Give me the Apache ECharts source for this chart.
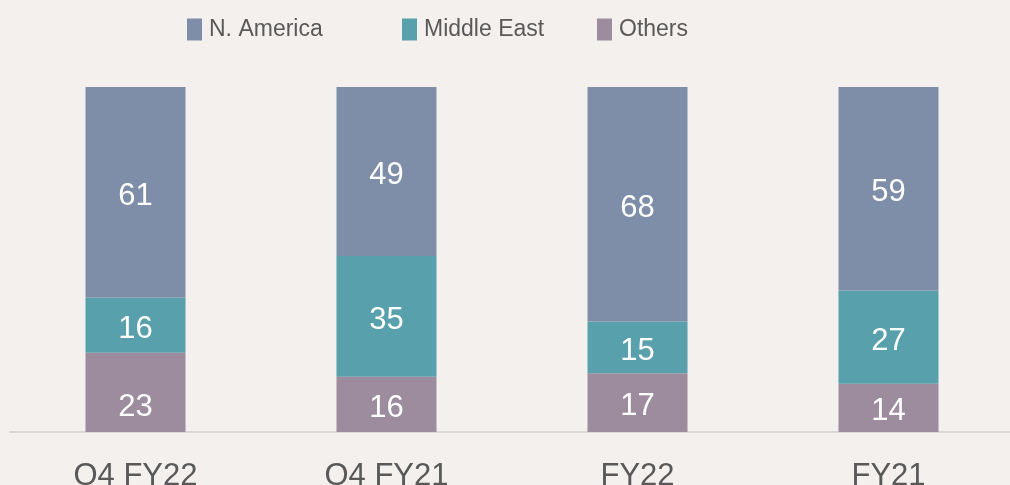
<!DOCTYPE html>
<html>
<head>
<meta charset="utf-8">
<script src="https://cdn.jsdelivr.net/npm/echarts@6/dist/echarts.min.js"></script>
<style>
  html, body { margin: 0; padding: 0; background: #f4f0ee; }
  #chart { width: 1010px; height: 485px; }
</style>
</head>
<body>
<div id="chart"></div>
<script>
  var categories = ['Q4 FY22', 'Q4 FY21', 'FY22', 'FY21'];
  var northAmerica = [61, 49, 68, 59];
  var middleEast = [16, 35, 15, 27];
  var others = [23, 16, 17, 14];

  var labelStyle = {
    show: true,
    position: 'inside',
    color: '#ffffff',
    fontSize: 31,
    offset: [0, 4],
    fontFamily: 'Liberation Sans, Arial, sans-serif'
  };

  function legendAt(name, left) {
    return {
      data: [name],
      left: left,
      top: 18,
      padding: 0,
      itemWidth: 15,
      itemHeight: 22,
      icon: 'rect',
      textStyle: {
        color: '#595959',
        fontSize: 23,
        fontFamily: 'Liberation Sans, Arial, sans-serif',
        padding: [0, 0, 0, 2]
      }
    };
  }

  // the bottom label of the first bar sits lower in the original
  var othersData = others.map(function (v, i) {
    return i === 0 ? { value: v, label: { offset: [0, 15] } } : v;
  });

  var chart = echarts.init(document.getElementById('chart'));
  chart.setOption({
    backgroundColor: '#f4f0ee',
    animation: false,
    legend: [
      legendAt('N. America', 187),
      legendAt('Middle East', 402),
      legendAt('Others', 597)
    ],
    grid: {
      left: 10,
      width: 1004,
      top: 87,
      bottom: 53,
      containLabel: false,
      outerBoundsMode: 'none'
    },
    xAxis: {
      type: 'category',
      data: categories,
      axisTick: { show: false },
      axisLine: { lineStyle: { color: '#d9d9d9', width: 2 } },
      axisLabel: {
        color: '#595959',
        fontSize: 31,
        margin: 29,
        fontFamily: 'Liberation Sans, Arial, sans-serif'
      }
    },
    yAxis: {
      type: 'value',
      min: 0,
      max: 100,
      show: false,
      splitLine: { show: false }
    },
    series: [
      {
        name: 'Others',
        type: 'bar',
        stack: 'total',
        barWidth: 100,
        itemStyle: { color: '#9c8c9e' },
        label: labelStyle,
        data: othersData
      },
      {
        name: 'Middle East',
        type: 'bar',
        stack: 'total',
        barWidth: 100,
        itemStyle: { color: '#58a0ab' },
        label: labelStyle,
        data: middleEast
      },
      {
        name: 'N. America',
        type: 'bar',
        stack: 'total',
        barWidth: 100,
        itemStyle: { color: '#7e8ea8' },
        label: labelStyle,
        data: northAmerica
      }
    ]
  });
</script>
</body>
</html>
